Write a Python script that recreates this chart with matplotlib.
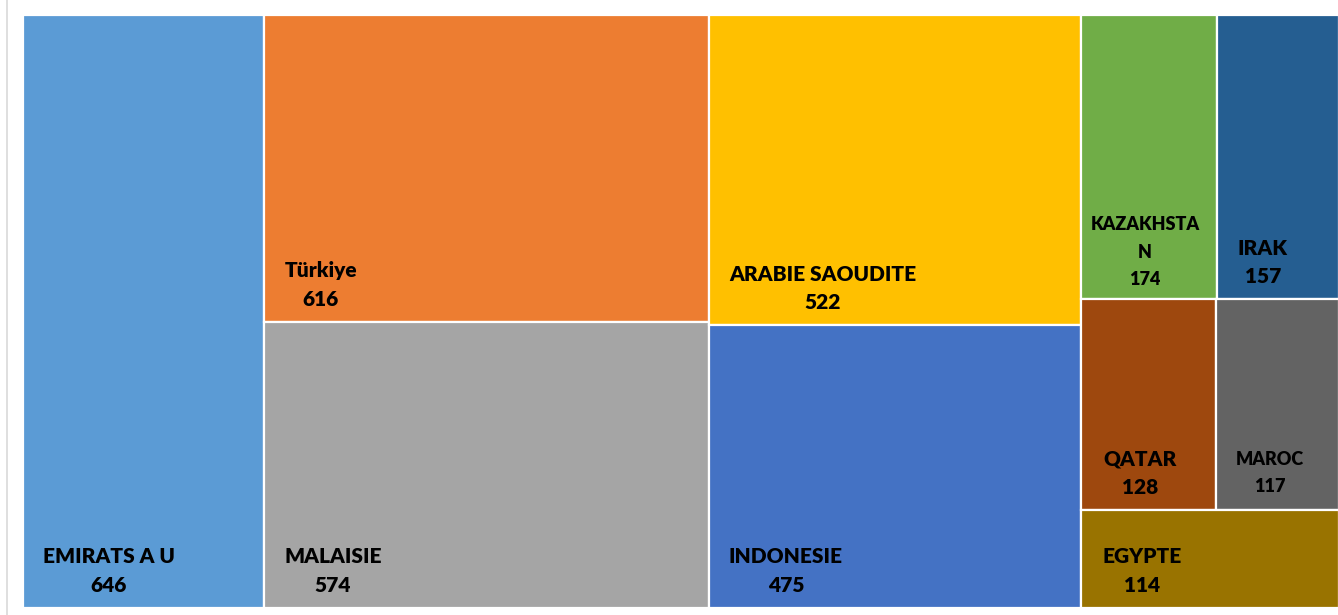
import matplotlib.pyplot as plt
from matplotlib.patches import Rectangle

# data
countries = ["EMIRATS A U", "Türkiye", "MALAISIE", "ARABIE SAOUDITE", "INDONESIE",
             "KAZAKHSTAN", "IRAK", "QATAR", "MAROC", "EGYPTE"]
values = [646, 616, 574, 522, 475, 174, 157, 128, 117, 114]
colors = ["#5B9BD5", "#ED7D31", "#A5A5A5", "#FFC000", "#4472C4",
          "#70AD47", "#255E91", "#9E480E", "#636363", "#997300"]

# label text as Excel wrapped it, and font size per tile
labels = ["EMIRATS A U", "Türkiye", "MALAISIE", "ARABIE SAOUDITE", "INDONESIE",
          "KAZAKHSTA\nN", "IRAK", "QATAR", "MAROC", "EGYPTE"]
label_sizes = [15, 15, 15, 15, 15, 13, 15, 15, 13, 15]
label_pad = [20, 20, 20, 20, 20, 9, 21, 22, 20, 21]

# column / row grouping used by the layout (indices into the lists above)
columns = [
    [[0]],
    [[1], [2]],
    [[3], [4]],
    [[5, 6], [7, 8], [9]],
]

W, H = 1338, 615
X0, Y0, TW, TH = 23, 15, 1316, 593

fig = plt.figure(figsize=(W / 100, H / 100), dpi=100)
ax = fig.add_axes([0, 0, 1, 1])
ax.set_xlim(0, W)
ax.set_ylim(H, 0)
ax.axis("off")

# chart border on the left
ax.plot([6.5, 6.5], [0, H], color="#D9D9D9", lw=1.2)

total = sum(values)
x = X0
for col in columns:
    col_sum = sum(values[i] for row in col for i in row)
    cw = TW * col_sum / total
    y = Y0
    for row in col:
        row_sum = sum(values[i] for i in row)
        rh = TH * row_sum / col_sum
        xx = x
        for i in row:
            w = cw * values[i] / row_sum
            ax.add_patch(Rectangle((xx, y), w, rh, facecolor=colors[i],
                                   edgecolor="white", lw=1.6))
            nlines = labels[i].count("\n") + 2
            off = 37 if nlines == 2 else 47
            ls = 1.62 if label_sizes[i] >= 15 else 1.75
            ax.text(xx + label_pad[i], y + rh - off, labels[i] + "\n" + str(values[i]),
                    ha="left", va="center", multialignment="center",
                    fontsize=label_sizes[i], fontweight="heavy",
                    family=["Lato", "DejaVu Sans"], color="black",
                    linespacing=ls)
            xx += w
        y += rh
    x += cw

fig.savefig("out.png", dpi=100)
